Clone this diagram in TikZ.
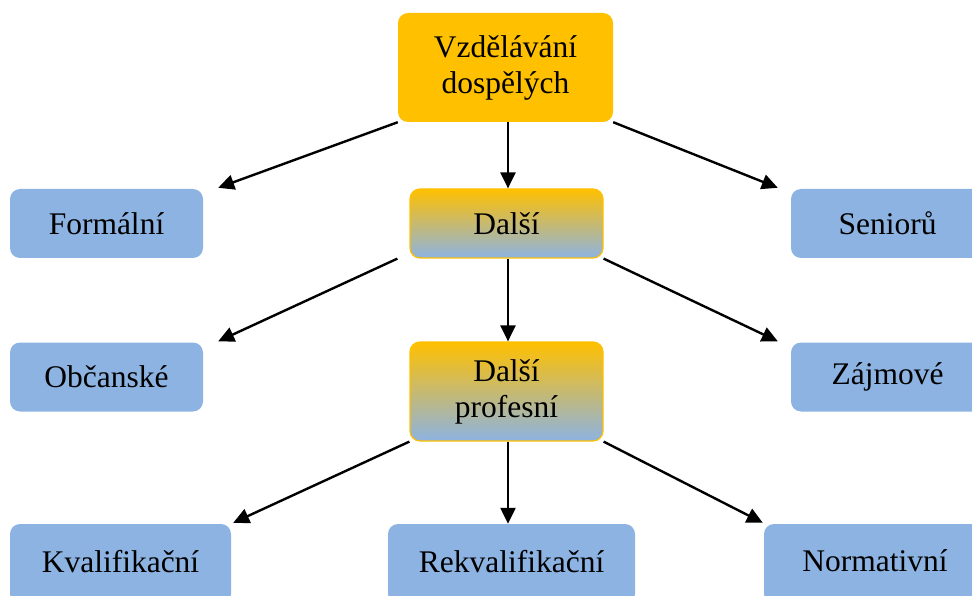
\documentclass[tikz,border=0pt]{standalone}
\usepackage{fontspec}
\setmainfont{Liberation Serif}
\usetikzlibrary{arrows.meta}
\definecolor{orng}{HTML}{FFC000}
\definecolor{blu}{HTML}{8DB3E2}
\begin{document}
\begin{tikzpicture}[x=1pt,y=-1pt,
  box/.style={rounded corners=10pt, align=center, inner sep=0pt,
    font=\fontsize{31.5}{36}\selectfont, text=black},
  bluebox/.style={box, fill=blu},
  topbox/.style={box, fill=orng},
  gradbox/.style={box, draw=orng, line width=1.2pt, top color=orng, bottom color=blu, middle color=orng!50!blu},
  arr/.style={line width=2.4pt, -{Triangle[length=16pt,width=15pt]}}
]
\useasboundingbox (0,0) rectangle (972,596);
\clip (0,0) rectangle (972,596);
\node[topbox, minimum width=215pt, minimum height=109pt] (top) at (505.5,67.5) {Vzdělávání\\dospělých};
\node[gradbox, minimum width=193pt, minimum height=69pt] (dalsi) at (506.5,223.5) {Další};
\node[gradbox, minimum width=193pt, minimum height=99pt] (prof) at (506.5,391.5) {Další\\profesní};
\node[bluebox, minimum width=193pt, minimum height=69pt] (formal) at (106.5,223.5) {Formální};
\node[bluebox, minimum width=193pt, minimum height=69pt] (senior) at (887.5,223.5) {Seniorů};
\node[bluebox, minimum width=193pt, minimum height=69pt] (obcan) at (106.5,377) {Občanské};
\node[bluebox, minimum width=193pt, minimum height=69pt] (zajm) at (887.5,377) {Zájmové};
\node[bluebox, minimum width=221pt, minimum height=80pt] (kval) at (120.5,564) {\raisebox{6pt}{Kvalifikační}};
\node[bluebox, minimum width=247pt, minimum height=80pt] (rekv) at (511.5,564) {\raisebox{6pt}{Rekvalifikační}};
\node[bluebox, minimum width=222pt, minimum height=80pt] (norm) at (875,564) {\raisebox{6pt}{Normativní}};

\draw[arr] (top.south west) -- ([shift={(15,-1)}]formal.north east);
\draw[arr] ([xshift=2.5]top.south) -- ([xshift=1.5]dalsi.north);
\draw[arr] (top.south east) -- ([shift={(-13,-1)}]senior.north west);
\draw[arr] ([xshift=-12]dalsi.south west) -- ([shift={(15,-1)}]obcan.north east);
\draw[arr] ([xshift=1.5]dalsi.south) -- ([xshift=1.5]prof.north);
\draw[arr] (dalsi.south east) -- ([shift={(-13,-1)}]zajm.north west);
\draw[arr] (prof.south west) -- ([shift={(2,-1)}]kval.north east);
\draw[arr] ([xshift=1.5]prof.south) -- ([xshift=-3.5]rekv.north);
\draw[arr] (prof.south east) -- ([shift={(-1,-1)}]norm.north west);
\end{tikzpicture}
\end{document}
